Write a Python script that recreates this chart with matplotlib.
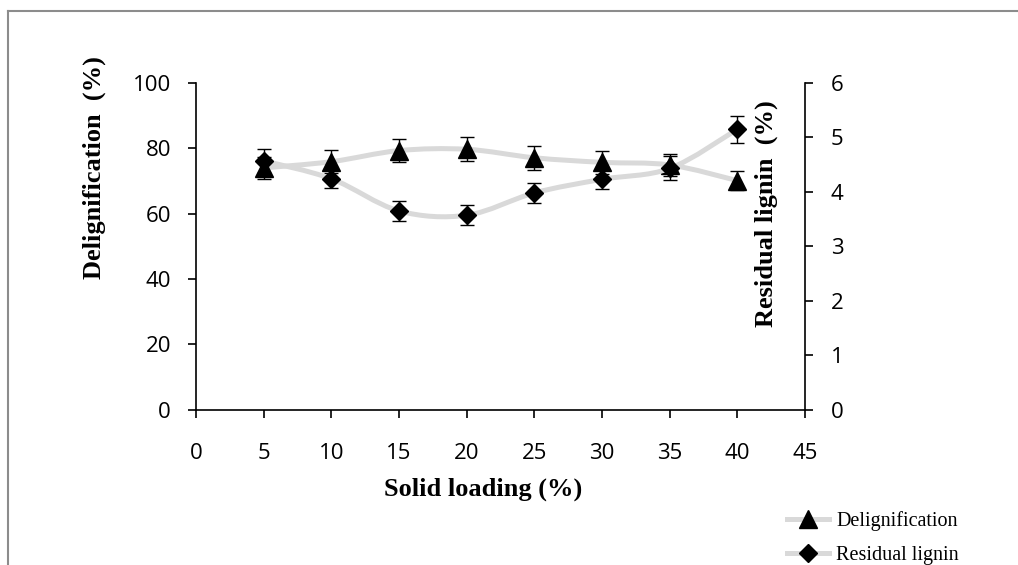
import matplotlib
matplotlib.use("Agg")
import matplotlib.pyplot as plt
import numpy as np
from matplotlib.path import Path
from matplotlib.patches import PathPatch
from matplotlib.lines import Line2D

# Solid loading series and measured responses
solid_loading = [5, 10, 15, 20, 25, 30, 35, 40]
delignification = [74.0, 75.9, 79.3, 79.7, 77.1, 75.7, 74.9, 70.1]
delignification_err = [3.3, 3.5, 3.6, 3.7, 3.7, 3.6, 3.4, 3.0]
residual_lignin = [4.57, 4.24, 3.65, 3.57, 3.98, 4.23, 4.43, 5.15]
residual_lignin_err = [0.22, 0.17, 0.18, 0.18, 0.19, 0.17, 0.22, 0.25]

x_ticks = list(range(0, 50, 5))
left_ticks = list(range(0, 120, 20))
right_ticks = list(range(0, 7))

W, H = 1018, 565
LINE_GREY = "#d9d9d9"
LABEL_FONT = "Liberation Serif"

plt.rcParams["font.family"] = ["Open Sans", "DejaVu Sans"]
plt.rcParams["xtick.labelsize"] = 16
plt.rcParams["ytick.labelsize"] = 16


def fx(px):
    return px / W


def fy(py):
    return 1 - py / H


def smooth_path(xs, ys):
    """Catmull-Rom style cubic Bezier through the points (spreadsheet 'smoothed line')."""
    pts = np.column_stack([xs, ys]).astype(float)
    n = len(pts)
    verts = [pts[0]]
    codes = [Path.MOVETO]
    for i in range(n - 1):
        p0 = pts[i - 1] if i > 0 else pts[i]
        p1 = pts[i]
        p2 = pts[i + 1]
        p3 = pts[i + 2] if i + 2 < n else pts[i + 1]
        c1 = p1 + (p2 - p0) / 6.0
        c2 = p2 - (p3 - p1) / 6.0
        verts += [c1, c2, p2]
        codes += [Path.CURVE4] * 3
    return Path(verts, codes)


fig = plt.figure(figsize=(W / 100, H / 100), dpi=100)
fig.patch.set_facecolor("white")

# thin grey frame on the left and top edges
fig.add_artist(Line2D([fx(8), fx(8)], [fy(11), 0], color="#8c8c8c", lw=1.5))
fig.add_artist(Line2D([fx(8), 1], [fy(11), fy(11)], color="#8c8c8c", lw=1.5))

ax = fig.add_axes([fx(196), fy(409.5), fx(805) - fx(196), fy(83) - fy(409.5)])
ax2 = ax.twinx()

ax.set_xlim(0, 45)
ax.set_ylim(0, 100)
ax2.set_ylim(0, 6)
ax.set_xticks(x_ticks)
ax.set_yticks(left_ticks)
ax2.set_yticks(right_ticks)

for s in ["top", "right"]:
    ax.spines[s].set_visible(False)
for s in ["top", "left", "bottom"]:
    ax2.spines[s].set_visible(False)
for a in (ax, ax2):
    for s in a.spines.values():
        s.set_linewidth(1.2)
        s.set_color("black")

ax.tick_params(axis="y", direction="out", length=5.5, width=1.2, pad=12.5)
ax.tick_params(axis="x", direction="out", length=5.5, width=1.2, pad=18.5)
ax2.tick_params(axis="y", direction="out", length=5.5, width=1.2, pad=13)

# delignification on the left axis
ax.add_patch(PathPatch(smooth_path(solid_loading, delignification), fill=False,
                       edgecolor=LINE_GREY, lw=3.6, zorder=1))
ax.errorbar(solid_loading, delignification, yerr=delignification_err, fmt="none",
            ecolor="black", elinewidth=1.0, capsize=4.7, capthick=1.0, zorder=2)
ax.plot(solid_loading, delignification, linestyle="none", marker="^", ms=13,
        mfc="black", mec="black", zorder=3)

# residual lignin on the right axis
ax2.add_patch(PathPatch(smooth_path(solid_loading, residual_lignin), fill=False,
                        edgecolor=LINE_GREY, lw=3.6, zorder=1))
ax2.errorbar(solid_loading, residual_lignin, yerr=residual_lignin_err, fmt="none",
             ecolor="black", elinewidth=1.0, capsize=4.7, capthick=1.0, zorder=2)
ax2.plot(solid_loading, residual_lignin, linestyle="none", marker="D", ms=9,
         mfc="black", mec="black", zorder=3)

# axis titles
label_kw = dict(fontfamily=LABEL_FONT, fontweight="bold", fontsize=19)
fig.text(fx(483.5), fy(496), "Solid loading (%)", ha="center", va="baseline",
         **label_kw)
fig.text(fx(100.5), fy(168), "Delignification  (%)", ha="center", va="baseline",
         rotation=90, rotation_mode="anchor", **label_kw)
fig.text(fx(773), fy(213.5), "Residual lignin  (%)", ha="center", va="baseline",
         rotation=90, rotation_mode="anchor", **label_kw)

handles = [
    Line2D([], [], color=LINE_GREY, lw=3.6, marker="^", ms=13, mfc="black",
           mec="black"),
    Line2D([], [], color=LINE_GREY, lw=3.6, marker="D", ms=9, mfc="black",
           mec="black"),
]
fig.legend(handles, ["Delignification", "Residual lignin"], loc="upper left",
           bbox_to_anchor=(fx(787), fy(511)), frameon=False, borderpad=0,
           borderaxespad=0, handlelength=2.1, handletextpad=0.35,
           labelspacing=0.75, prop={"family": LABEL_FONT, "size": 14.5})

fig.savefig("out.png", dpi=100, facecolor="white")
